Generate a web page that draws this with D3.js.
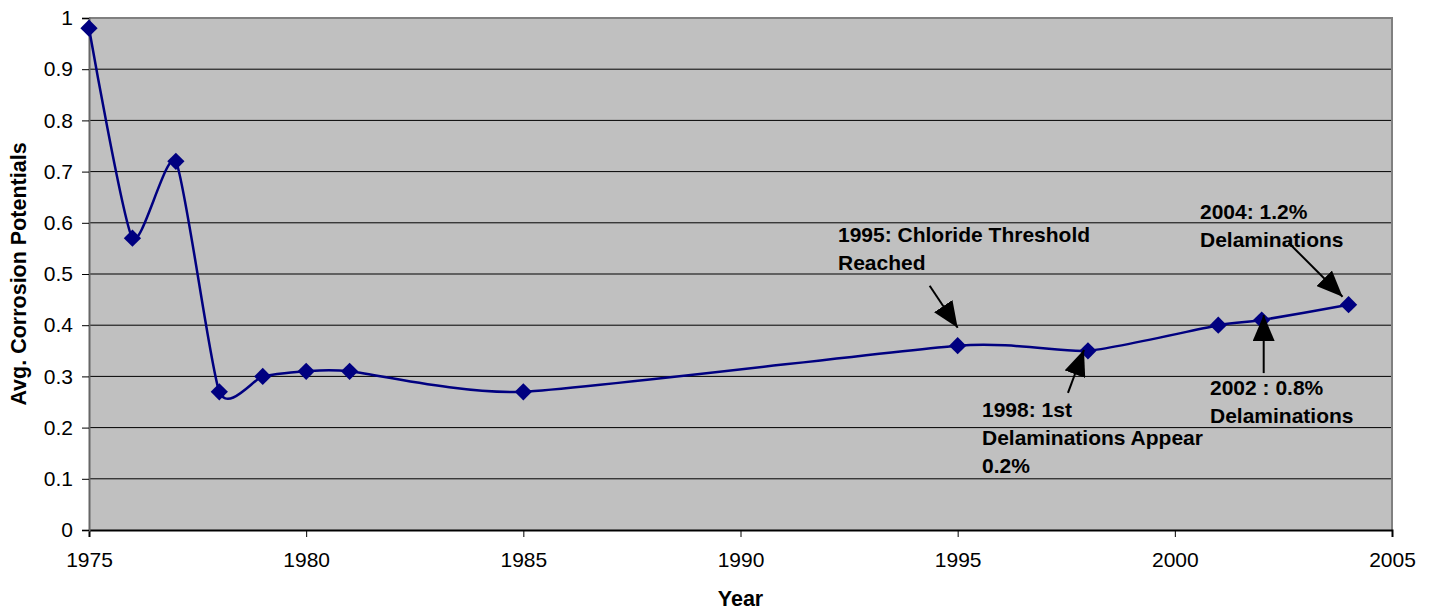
<!DOCTYPE html>
<html lang="en">
<head>
    <meta charset="UTF-8">
    <title>Avg. Corrosion Potentials</title>
    <style>
        body { margin: 0; background: #fff; }
        text { font-family: Arial, "Liberation Sans", sans-serif; }
        .tick text { font-size: 21px; fill: #000; }
        .line { fill: none; stroke: #000080; stroke-width: 2.5; }
        .note { font-size: 21px; font-weight: bold; fill: #000; }
        .title { font-size: 21.5px; font-weight: bold; }
    </style>
</head>
<body>
    <svg id="container" width="1438" height="613"></svg>
</body>

<script src="https://cdn.jsdelivr.net/npm/d3@7"></script>

<script>

    let years = [1975, 1976, 1977, 1978, 1979, 1980, 1981, 1985, 1995, 1998, 2001, 2002, 2004]
    let potentials = [0.98, 0.57, 0.72, 0.27, 0.30, 0.31, 0.31, 0.27, 0.36, 0.35, 0.40, 0.41, 0.44]
    let xTicks = [1975, 1980, 1985, 1990, 1995, 2000, 2005]
    let yTicks = [0, 0.1, 0.2, 0.3, 0.4, 0.5, 0.6, 0.7, 0.8, 0.9, 1]

    // annotation text and the year it points at
    let noteYears = [1995, 1998, 2004, 2002]
    let noteLines = [
        ["1995: Chloride Threshold", "Reached"],
        ["1998: 1st", "Delaminations Appear", "0.2%"],
        ["2004: 1.2%", "Delaminations"],
        ["2002 : 0.8%", "Delaminations"]
    ]

    let data = years.map((y, i) => ({ year: y, value: potentials[i] }))

    let svg = d3.select("#container")
    let plotLeft = 89, plotTop = 18, plotRight = 1392, plotBottom = 530

    let x = d3.scaleLinear().domain([1975, 2005]).range([plotLeft, plotRight])
    let y = d3.scaleLinear().domain([0, 1]).range([plotBottom, plotTop])

    svg.append("rect")
        .attr("x", plotLeft).attr("y", plotTop)
        .attr("width", plotRight - plotLeft).attr("height", plotBottom - plotTop)
        .attr("fill", "#c0c0c0")

    // gridlines
    svg.append("g")
        .selectAll("line")
        .data(yTicks.slice(1, -1))
        .enter()
        .append("line")
        .attr("x1", plotLeft).attr("x2", plotRight)
        .attr("y1", d => y(d)).attr("y2", d => y(d))
        .attr("stroke", "#000").attr("stroke-width", 1)

    // plot frame top/right
    svg.append("path")
        .attr("d", `M${plotLeft},${plotTop}H${plotRight}V${plotBottom}`)
        .attr("fill", "none").attr("stroke", "#808080").attr("stroke-width", 2)

    let xAxis = svg.append("g")
        .attr("transform", `translate(0,${plotBottom})`)
        .call(d3.axisBottom(x).tickValues(xTicks).tickFormat(d3.format("d")).tickSizeOuter(0).tickSize(7).tickPadding(15))
    xAxis.select(".domain").attr("stroke", "#000").attr("stroke-width", 2)
    xAxis.selectAll(".tick line").attr("stroke", "#000")

    let yAxis = svg.append("g")
        .attr("transform", `translate(${plotLeft},0)`)
        .call(d3.axisLeft(y).tickValues(yTicks).tickFormat(d => d3.format("~g")(d)).tickSizeOuter(0).tickSize(7).tickPadding(9))
    yAxis.select(".domain").attr("stroke", "#666").attr("stroke-width", 2)
    yAxis.selectAll(".tick line").attr("stroke", "#000")

    let line = d3.line()
        .x(d => x(d.year))
        .y(d => y(d.value))
        .curve(d3.curveCardinal.tension(0.4))

    svg.append("path")
        .datum(data)
        .attr("class", "line")
        .attr("d", line)

    let diamond = d3.symbol().type(d3.symbolDiamond2).size(190)
    svg.append("g")
        .selectAll("path")
        .data(data)
        .enter()
        .append("path")
        .attr("d", diamond)
        .attr("transform", d => `translate(${x(d.year)},${y(d.value)})`)
        .attr("fill", "#000080")

    svg.append("text")
        .attr("class", "title")
        .attr("transform", `translate(26,${(plotTop + plotBottom) / 2}) rotate(-90)`)
        .attr("text-anchor", "middle")
        .text("Avg. Corrosion Potentials")

    svg.append("text")
        .attr("class", "title")
        .attr("x", (plotLeft + plotRight) / 2)
        .attr("y", 606)
        .attr("text-anchor", "middle")
        .text("Year")

    // annotations
    svg.append("defs").append("marker")
        .attr("id", "head")
        .attr("viewBox", "0 0 26 22")
        .attr("refX", 26).attr("refY", 11)
        .attr("markerWidth", 26).attr("markerHeight", 22)
        .attr("markerUnits", "userSpaceOnUse")
        .attr("orient", "auto")
        .append("path")
        .attr("d", "M0,0L26,11L0,22Z")
        .attr("fill", "#000")

    let labelPos = [[838, 242], [982, 417], [1200, 219], [1210, 395]]
    let tails = [[-28, -60], [-20, 42], [-60, -62], [2, 53]]
    let tips = [[0, -18], [-4, -1], [-6, -8], [2, -5]]

    noteYears.forEach((yr, i) => {
        let v = potentials[years.indexOf(yr)]
        let px = x(yr), py = y(v)
        svg.append("line")
            .attr("x1", px + tails[i][0]).attr("y1", py + tails[i][1])
            .attr("x2", px + tips[i][0]).attr("y2", py + tips[i][1])
            .attr("stroke", "#000").attr("stroke-width", 2)
            .attr("marker-end", "url(#head)")

        let t = svg.append("text")
            .attr("class", "note")
            .attr("x", labelPos[i][0])
            .attr("y", labelPos[i][1])
        noteLines[i].forEach((s, j) => {
            t.append("tspan")
                .attr("x", labelPos[i][0])
                .attr("dy", j == 0 ? 0 : 28)
                .text(s)
        })
    })

</script>
</html>
